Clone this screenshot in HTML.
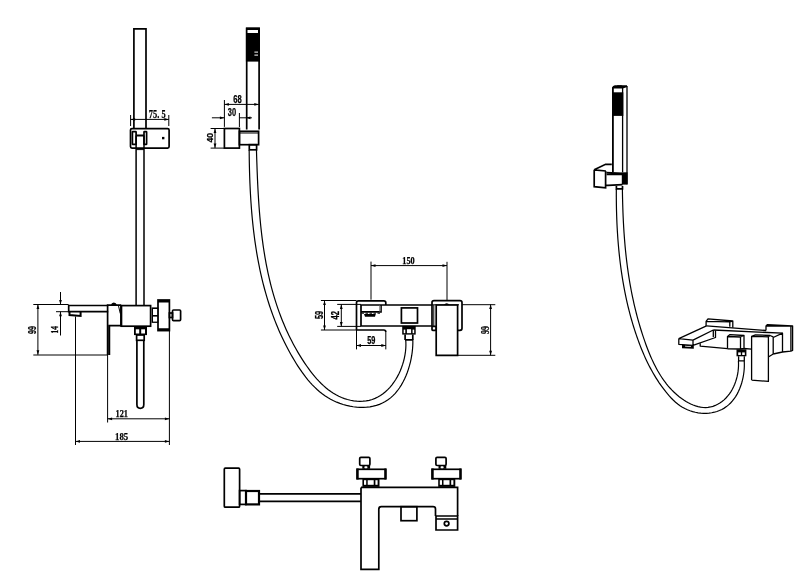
<!DOCTYPE html>
<html><head><meta charset="utf-8"><style>
html,body{margin:0;padding:0;background:#fff;width:800px;height:580px;overflow:hidden}
svg{display:block;will-change:transform}
.o{fill:none;stroke:#000;stroke-width:1.7}
.t{fill:none;stroke:#000;stroke-width:1}
.h{fill:none;stroke:#000;stroke-width:1.2}
.r{fill:none;stroke:#000;stroke-width:1.3;stroke-linejoin:round}
.dm{fill:none;stroke:#000;stroke-width:1}
.ar{fill:#000;stroke:none}
text{font-family:"Liberation Serif",serif;font-weight:bold;fill:#000;stroke:#000;stroke-width:0.25}
text.ss{font-family:"Liberation Sans",sans-serif}
</style></head><body>
<svg width="800" height="580" viewBox="0 0 800 580">
<path class="o" d="M133.9,128.6 V28.8 H146 V128.6"/>
<rect class="o" x="130.5" y="128.6" width="38.6" height="19.5" rx="1.5"/>
<rect class="o" x="132.4" y="131.6" width="3.7" height="12.8" rx="0.5"/>
<rect class="o" x="144" y="131.6" width="2.6" height="12.8" rx="0.5"/>
<path class="o" d="M136.1,135.5 H144" style="stroke-width:2"/>
<rect x="162" y="136.9" width="2.4" height="2.4"/>
<path class="o" d="M136.1,135.5 V305 M144,135.5 V305" style="stroke-width:1.5"/>
<path class="t" d="M136.1,149.6 H144"/>
<path class="dm" d="M130.6,115 V126 M168.8,115 V126"/>
<path class="dm" d="M130.6,119.4 H168.8"/><path class="ar" d="M130.6,119.4 L135.1,118.0 L135.1,120.8 Z"/><path class="ar" d="M168.8,119.4 L164.3,118.0 L164.3,120.8 Z"/>
<text x="148.8" y="117.8" font-size="12.21" textLength="16.8" lengthAdjust="spacingAndGlyphs">75. 5</text>
<path class="o" d="M108.2,305.5 H68.7 V311.6 H108.2"/>
<path class="o" d="M69.5,312 V315 L80.6,316 V312" style="stroke-width:2"/>
<path d="M110.8,305.5 Q111.5,302.6 113.8,302.6 Q116.2,302.6 117.1,305.5 Z"/>
<path class="o" d="M107.6,355.1 V305.2 H121.2 M109.4,355.1 V325.7 H121"/>
<path class="t" d="M118.3,305 L120.3,313.6"/>
<rect class="o" x="121.2" y="305.6" width="29.4" height="20.6"/>
<path class="o" d="M121.2,305.6 V326.2" style="stroke-width:2.2"/>
<path d="M151.6,307.4 H158.4 V322.9 H151.6 Z"/>
<rect fill="#fff" x="153" y="309" width="4.8" height="6"/><rect fill="#fff" x="153" y="316.6" width="4.8" height="5"/>
<rect class="o" x="158" y="300" width="11.4" height="30.6"/>
<path d="M158,300 H169.4 V302.5 H158 Z M158,328.2 H169.4 V330.6 H158 Z"/>
<rect class="o" x="169.4" y="313" width="3.1" height="4.5"/>
<rect class="o" x="172.5" y="310" width="8.1" height="10.6" rx="1"/>
<path d="M134,326.2 H147 V335.1 H134 Z"/>
<rect fill="#fff" x="135.8" y="329.3" width="3.4" height="4.2"/><rect fill="#fff" x="141.2" y="329.3" width="3.8" height="4.2"/>
<rect class="o" x="136.6" y="335" width="7.6" height="5.3"/>
<path class="o" d="M136.9,340 V404.5 Q136.9,408.3 140.3,408.3 Q143.8,408.3 143.8,404.5 V340"/>
<path class="dm" d="M33.3,304.5 H68.6 M56,311.7 H68.6 M33.3,355 H107.6"/>
<path class="dm" d="M37.9,304.5 V354.8"/><path class="ar" d="M37.9,304.5 L36.5,309.0 L39.3,309.0 Z"/><path class="ar" d="M37.9,354.8 L36.5,350.3 L39.3,350.3 Z"/>
<text class="ss" transform="translate(35.9,333.9) rotate(-90)" x="0" y="0" font-size="10.70" textLength="7.8" lengthAdjust="spacingAndGlyphs">99</text>
<path class="dm" d="M60.5,292 V304.5 M60.5,311.7 V335.5"/>
<path class="ar" d="M60.5,304.5 L59.1,300.0 L61.9,300.0 Z"/>
<path class="ar" d="M60.5,311.7 L59.1,316.2 L61.9,316.2 Z"/>
<text transform="translate(58.3,333.6) rotate(-90)" x="0" y="0" font-size="10.74" textLength="7.5" lengthAdjust="spacingAndGlyphs">14</text>
<path class="dm" d="M107.6,355 V422.5 M75.5,316.5 V445 M169.4,330.6 V445"/>
<path class="dm" d="M107.6,418.8 H169.4"/><path class="ar" d="M107.6,418.8 L112.1,417.4 L112.1,420.2 Z"/><path class="ar" d="M169.4,418.8 L164.9,417.4 L164.9,420.2 Z"/>
<text x="115.5" y="416.8" font-size="10.00" textLength="12.5" lengthAdjust="spacingAndGlyphs">121</text>
<path class="dm" d="M75.5,441.4 H169.4"/><path class="ar" d="M75.5,441.4 L80.0,440.0 L80.0,442.8 Z"/><path class="ar" d="M169.4,441.4 L164.9,440.0 L164.9,442.8 Z"/>
<text x="115.0" y="439.5" font-size="11.03" textLength="13.2" lengthAdjust="spacingAndGlyphs">185</text>
<path class="o" d="M246.7,129.4 V28.4 H259.1 V129.4"/>
<rect x="245.9" y="27.6" width="14" height="34"/>
<rect fill="#fff" x="247.5" y="30" width="10.5" height="3"/>
<rect fill="#fff" x="254.4" y="51.6" width="3.6" height="1"/><rect fill="#fff" x="254.4" y="54.6" width="3.6" height="1"/>
<rect class="o" x="224.4" y="128.5" width="15" height="19.6"/>
<rect class="o" x="239.4" y="131.3" width="19.2" height="13.4"/>
<path class="t" d="M239.4,133 H258.6"/>
<rect class="o" x="249.3" y="144.7" width="7.3" height="5.1"/>
<path class="h" d="M249.17,150.01 L249.20,153.33 L249.24,156.66 L249.28,160.00 L249.34,163.34 L249.41,166.68 L249.49,170.02 L249.59,173.37 L249.69,176.72 L249.81,180.07 L249.94,183.42 L250.09,186.78 L250.25,190.13 L250.43,193.49 L250.62,196.84 L250.83,200.20 L251.06,203.55 L251.30,206.90 L251.56,210.25 L251.84,213.61 L252.14,216.95 L252.46,220.30 L252.80,223.65 L253.16,226.99 L253.54,230.32 L253.95,233.66 L254.37,236.99 L254.82,240.32 L255.30,243.64 L255.79,246.96 L256.31,250.27 L256.86,253.57 L257.43,256.87 L258.03,260.17 L258.66,263.46 L259.31,266.74 L259.99,270.01 L260.70,273.28 L261.44,276.53 L262.21,279.78 L263.00,283.03 L263.83,286.26 L264.69,289.48 L265.58,292.70 L266.51,295.90 L267.46,299.09 L268.45,302.28 L269.47,305.45 L270.53,308.61 L271.63,311.76 L272.75,314.89 L273.92,318.02 L275.12,321.13 L276.36,324.23 L277.63,327.32 L278.95,330.39 L280.30,333.45 L281.69,336.49 L283.13,339.52 L284.60,342.54 L286.11,345.54 L287.67,348.52 L289.26,351.49 L290.90,354.44 L292.59,357.38 L294.31,360.29 L296.08,363.19 L297.90,366.07 L299.78,368.91 L301.70,371.71 L303.69,374.45 L305.74,377.15 L307.86,379.77 L310.05,382.33 L312.32,384.80 L314.66,387.19 L317.09,389.48 L319.60,391.67 L322.21,393.74 L324.91,395.70 L327.70,397.53 L330.60,399.22 L333.60,400.77 L336.70,402.18 L339.89,403.42 L343.15,404.51 L346.46,405.43 L349.82,406.18 L353.20,406.76 L356.59,407.15 L359.98,407.35 L363.36,407.36 L366.70,407.18 L369.99,406.79 L373.23,406.18 L376.39,405.37 L379.46,404.33 L382.43,403.07 L385.28,401.58 L387.99,399.85 L390.56,397.88 L392.99,395.69 L395.27,393.30 L397.41,390.73 L399.41,387.99 L401.26,385.10 L402.98,382.09 L404.55,378.96 L405.99,375.73 L407.28,372.44 L408.44,369.08 L409.46,365.69 L410.35,362.28 L411.10,358.87 L411.72,355.47 L412.20,352.10 L412.55,348.79 L412.77,345.55 L412.86,342.40 L412.81,339.35"/>
<path class="h" d="M256.45,149.97 L256.55,153.12 L256.64,156.28 L256.74,159.44 L256.85,162.60 L256.96,165.76 L257.07,168.93 L257.19,172.10 L257.32,175.27 L257.45,178.44 L257.59,181.61 L257.74,184.78 L257.90,187.96 L258.07,191.13 L258.25,194.30 L258.44,197.48 L258.64,200.65 L258.85,203.82 L259.08,206.99 L259.32,210.16 L259.58,213.33 L259.85,216.49 L260.13,219.65 L260.43,222.81 L260.75,225.97 L261.09,229.12 L261.44,232.28 L261.81,235.42 L262.21,238.57 L262.62,241.70 L263.05,244.84 L263.51,247.97 L263.98,251.09 L264.48,254.21 L265.00,257.33 L265.55,260.43 L266.12,263.53 L266.72,266.63 L267.34,269.72 L267.99,272.80 L268.67,275.87 L269.37,278.94 L270.10,282.00 L270.87,285.05 L271.66,288.09 L272.48,291.12 L273.33,294.15 L274.22,297.16 L275.14,300.17 L276.09,303.16 L277.07,306.15 L278.09,309.13 L279.15,312.09 L280.24,315.05 L281.36,317.99 L282.53,320.92 L283.73,323.84 L284.97,326.75 L286.24,329.64 L287.56,332.53 L288.92,335.40 L290.32,338.26 L291.76,341.10 L293.24,343.93 L294.77,346.75 L296.34,349.55 L297.95,352.34 L299.61,355.11 L301.31,357.87 L303.06,360.61 L304.86,363.33 L306.70,366.03 L308.60,368.70 L310.55,371.32 L312.55,373.89 L314.61,376.40 L316.73,378.83 L318.91,381.20 L321.15,383.47 L323.46,385.65 L325.83,387.72 L328.27,389.68 L330.79,391.52 L333.37,393.23 L336.03,394.80 L338.76,396.22 L341.58,397.48 L344.47,398.58 L347.44,399.51 L350.50,400.25 L353.61,400.80 L356.75,401.14 L359.91,401.28 L363.06,401.19 L366.17,400.86 L369.22,400.29 L372.19,399.47 L375.05,398.40 L377.82,397.07 L380.47,395.52 L383.01,393.76 L385.44,391.79 L387.74,389.64 L389.93,387.32 L391.99,384.84 L393.92,382.22 L395.72,379.48 L397.39,376.63 L398.92,373.68 L400.30,370.66 L401.54,367.56 L402.64,364.42 L403.58,361.24 L404.36,358.04 L404.99,354.83 L405.46,351.64 L405.77,348.46 L405.91,345.33 L405.87,342.25 L405.67,339.24"/>
<path class="dm" d="M224.4,100 V126.9 M239.4,113 V127"/>
<path class="dm" d="M224.4,104.4 H258.8"/><path class="ar" d="M224.4,104.4 L228.9,103.0 L228.9,105.8 Z"/><path class="ar" d="M258.8,104.4 L254.3,103.0 L254.3,105.8 Z"/>
<text class="ss" x="233.3" y="102.7" font-size="10.99" textLength="8.5" lengthAdjust="spacingAndGlyphs">68</text>
<path class="dm" d="M211.9,117.8 H224.4 M239.4,117.8 H251.9"/>
<path class="ar" d="M224.4,117.8 L219.9,116.4 L219.9,119.2 Z"/>
<path class="ar" d="M246.0,117.8 L250.5,116.4 L250.5,119.2 Z"/>
<text class="ss" x="227.8" y="115.6" font-size="10.56" textLength="8.3" lengthAdjust="spacingAndGlyphs">30</text>
<path class="dm" d="M210.6,128.5 H224.4 M210.6,148.1 H224.4"/>
<path class="dm" d="M215.0,128.5 V148.1"/><path class="ar" d="M215.0,128.5 L213.6,133.0 L216.4,133.0 Z"/><path class="ar" d="M215.0,148.1 L213.6,143.6 L216.4,143.6 Z"/>
<text class="ss" transform="translate(212.5,142.5) rotate(-90)" x="0" y="0" font-size="9.15" textLength="9.5" lengthAdjust="spacingAndGlyphs">40</text>
<path class="o" d="M356.5,330 V302.8 Q356.5,300.8 358.5,300.8 H383.8 Q385.8,300.8 385.8,302.8 V305"/>
<path class="o" d="M356.5,330 H383.8 Q385.8,330 385.8,332"/>
<path class="o" d="M361,326 V305 H432 M361,326 H432"/>
<path class="o" d="M361,311.9 H381 V305"/>
<rect fill="#999" x="379" y="305.8" width="1.6" height="5.5"/>
<path class="t" d="M361.5,313.2 H381" stroke-dasharray="2.5,1.5"/>
<path d="M364,314 H375.8 L375,316.7 H365 Z"/>
<rect class="o" x="401.4" y="307.9" width="16.1" height="15.1"/>
<path d="M402.2,325.9 H415.7 V334.6 H402.2 Z"/>
<rect fill="#fff" x="403.7" y="329.6" width="1.6" height="3.6"/><rect fill="#fff" x="406.9" y="329.2" width="4.2" height="4"/><rect fill="#fff" x="412.6" y="329.6" width="1.6" height="3.6"/>
<path class="o" d="M405.1,334.5 V340 M412.8,334.5 V340 M405.1,339.8 H412.8"/>
<path class="o" d="M432,326.4 V302.6 Q432,300.6 434,300.6 H460 Q462,300.6 462,302.6 V328.3 Q462,330.3 460,330.3 H457.6"/>
<path class="t" d="M432,304.8 H459 M433.8,305 V326.4"/>
<path class="o" d="M436.2,355.3 V305 H457.6 V355.3 Z"/>
<path d="M443.6,305 Q446.7,301.5 449.8,305 Z"/>
<rect class="o" x="432" y="326.4" width="4.2" height="3.9" rx="0.8"/>
<path class="dm" d="M371,261.6 V299.7 M447,261.8 V300.3"/>
<path class="dm" d="M371.0,265.6 H447.0"/><path class="ar" d="M371.0,265.6 L375.5,264.2 L375.5,267.0 Z"/><path class="ar" d="M447.0,265.6 L442.5,264.2 L442.5,267.0 Z"/>
<text x="402.3" y="263.7" font-size="10.44" textLength="12.4" lengthAdjust="spacingAndGlyphs">150</text>
<path class="dm" d="M320.9,300.5 H356.5 M320.9,330 H356.5 M337.2,304.4 H361 M337.2,326.4 H361"/>
<path class="dm" d="M324.5,300.5 V330.0"/><path class="ar" d="M324.5,300.5 L323.1,305.0 L325.9,305.0 Z"/><path class="ar" d="M324.5,330.0 L323.1,325.5 L325.9,325.5 Z"/>
<text class="ss" transform="translate(322.7,319.1) rotate(-90)" x="0" y="0" font-size="10.28" textLength="8.2" lengthAdjust="spacingAndGlyphs">59</text>
<path class="dm" d="M341.3,304.4 V326.4"/><path class="ar" d="M341.3,304.4 L339.9,308.9 L342.7,308.9 Z"/><path class="ar" d="M341.3,326.4 L339.9,321.9 L342.7,321.9 Z"/>
<text class="ss" transform="translate(339.2,319.4) rotate(-90)" x="0" y="0" font-size="10.42" textLength="8.5" lengthAdjust="spacingAndGlyphs">42</text>
<path class="dm" d="M356.5,330 V349.4 M385.8,332 V349.4"/>
<path class="dm" d="M356.5,345.5 H385.8"/><path class="ar" d="M356.5,345.5 L361.0,344.1 L361.0,346.9 Z"/><path class="ar" d="M385.8,345.5 L381.3,344.1 L381.3,346.9 Z"/>
<text class="ss" x="367.2" y="343.7" font-size="10.56" textLength="8.2" lengthAdjust="spacingAndGlyphs">59</text>
<path class="dm" d="M462,304.7 H495.3 M457.6,355.3 H495.3"/>
<path class="dm" d="M490.6,304.5 V355.3"/><path class="ar" d="M490.6,304.5 L489.2,309.0 L492.0,309.0 Z"/><path class="ar" d="M490.6,355.3 L489.2,350.8 L492.0,350.8 Z"/>
<text transform="translate(488.9,333.9) rotate(-90)" x="0" y="0" font-size="11.47" textLength="8.0" lengthAdjust="spacingAndGlyphs">99</text>
<path d="M612.2,92.3 H623.3 V115.9 H612.2 Z"/>
<path class="o" d="M612.9,171.9 V87.6 Q613.5,86.3 615,86.1 H627 M612.9,87.6 H622.6 L627,86.1" style="stroke-width:1.8"/>
<path class="r" d="M627,86.1 V184.2 M622.6,87.6 V172"/>
<ellipse class="t" cx="619.6" cy="86.6" rx="3.2" ry="0.9"/>
<path class="o" d="M594.2,169.8 L605.6,164.3 H611.8 M594.2,169.8 L605.9,171 M594.2,169.8 V186.7 L605.6,187.8 V171"/>
<path class="o" d="M606.4,172.6 L622.5,173.3 M606.6,174.3 L622.5,174.5 M605.6,185.3 H608 L622.5,184.7"/>
<path d="M621.8,172.3 H627.6 V184.6 H621.8 Z"/>
<path class="o" d="M616.4,186 V188.8 H622.5 V186"/>
<path class="h" d="M616.33,189.05 L616.32,191.81 L616.31,194.58 L616.32,197.35 L616.34,200.13 L616.37,202.90 L616.41,205.68 L616.46,208.47 L616.53,211.25 L616.61,214.04 L616.70,216.83 L616.80,219.62 L616.91,222.41 L617.04,225.20 L617.19,227.99 L617.34,230.79 L617.52,233.58 L617.70,236.37 L617.90,239.17 L618.12,241.96 L618.35,244.76 L618.59,247.55 L618.85,250.34 L619.13,253.13 L619.43,255.92 L619.74,258.70 L620.06,261.49 L620.41,264.27 L620.77,267.05 L621.15,269.82 L621.55,272.59 L621.97,275.36 L622.40,278.13 L622.85,280.89 L623.33,283.65 L623.82,286.40 L624.33,289.15 L624.86,291.89 L625.41,294.63 L625.98,297.37 L626.57,300.09 L627.19,302.82 L627.82,305.53 L628.48,308.24 L629.15,310.94 L629.85,313.64 L630.58,316.33 L631.32,319.01 L632.09,321.68 L632.88,324.35 L633.69,327.01 L634.53,329.65 L635.39,332.30 L636.27,334.93 L637.18,337.55 L638.12,340.16 L639.08,342.77 L640.06,345.36 L641.08,347.94 L642.12,350.51 L643.19,353.07 L644.30,355.62 L645.44,358.15 L646.62,360.67 L647.83,363.17 L649.08,365.65 L650.37,368.12 L651.70,370.57 L653.07,373.01 L654.49,375.42 L655.95,377.82 L657.46,380.19 L659.01,382.55 L660.62,384.88 L662.28,387.19 L663.99,389.48 L665.75,391.74 L667.57,393.97 L669.45,396.15 L671.41,398.26 L673.43,400.28 L675.54,402.20 L677.73,404.00 L680.01,405.66 L682.39,407.17 L684.86,408.52 L687.40,409.71 L690.00,410.73 L692.66,411.59 L695.35,412.28 L698.08,412.80 L700.82,413.15 L703.56,413.32 L706.30,413.31 L709.02,413.13 L711.70,412.76 L714.34,412.21 L716.92,411.47 L719.44,410.55 L721.88,409.43 L724.22,408.12 L726.46,406.62 L728.58,404.91 L730.58,403.02 L732.44,400.94 L734.18,398.71 L735.78,396.33 L737.24,393.84 L738.56,391.24 L739.74,388.56 L740.78,385.81 L741.68,383.02 L742.45,380.19 L743.08,377.35 L743.58,374.52 L743.96,371.72 L744.21,368.95 L744.33,366.24 L744.34,363.62 L744.23,361.08"/>
<path class="h" d="M622.40,188.90 L622.43,191.57 L622.47,194.23 L622.52,196.89 L622.58,199.55 L622.65,202.20 L622.72,204.85 L622.80,207.50 L622.89,210.14 L622.98,212.78 L623.09,215.42 L623.21,218.05 L623.33,220.68 L623.47,223.31 L623.61,225.94 L623.77,228.56 L623.93,231.18 L624.11,233.80 L624.30,236.41 L624.49,239.03 L624.71,241.64 L624.93,244.24 L625.16,246.85 L625.41,249.45 L625.67,252.05 L625.94,254.64 L626.23,257.24 L626.53,259.83 L626.84,262.42 L627.17,265.01 L627.51,267.59 L627.87,270.17 L628.24,272.75 L628.63,275.33 L629.03,277.91 L629.45,280.48 L629.88,283.05 L630.33,285.62 L630.80,288.18 L631.28,290.75 L631.78,293.31 L632.30,295.87 L632.84,298.43 L633.39,300.99 L633.96,303.54 L634.55,306.10 L635.16,308.65 L635.79,311.20 L636.44,313.74 L637.11,316.29 L637.79,318.83 L638.50,321.38 L639.23,323.92 L639.98,326.46 L640.74,328.99 L641.53,331.53 L642.35,334.06 L643.18,336.60 L644.03,339.13 L644.91,341.66 L645.81,344.18 L646.74,346.70 L647.70,349.22 L648.68,351.72 L649.70,354.20 L650.74,356.67 L651.83,359.12 L652.95,361.55 L654.11,363.96 L655.31,366.33 L656.55,368.68 L657.84,371.00 L659.17,373.27 L660.55,375.52 L661.99,377.72 L663.47,379.88 L665.01,381.99 L666.60,384.05 L668.26,386.06 L669.97,388.02 L671.74,389.92 L673.58,391.77 L675.48,393.55 L677.45,395.26 L679.49,396.91 L681.60,398.49 L683.78,400.00 L686.03,401.43 L688.35,402.75 L690.72,403.95 L693.13,405.01 L695.57,405.92 L698.05,406.64 L700.54,407.17 L703.04,407.48 L705.54,407.56 L708.03,407.38 L710.50,406.96 L712.94,406.31 L715.32,405.43 L717.64,404.33 L719.88,403.03 L722.02,401.53 L724.06,399.85 L725.98,397.99 L727.78,395.99 L729.44,393.84 L730.97,391.57 L732.35,389.21 L733.59,386.75 L734.69,384.23 L735.64,381.66 L736.46,379.05 L737.13,376.42 L737.68,373.78 L738.08,371.15 L738.36,368.55 L738.51,366.00 L738.53,363.50 L738.42,361.07"/>
<path class="r" d="M706.1,326.2 V321.4 L708,318.8 L732.8,321 V327.8 M706.1,321.4 L729.8,321.8 V326.8 M729.8,321.8 L732.8,321"/>
<path class="r" d="M678.8,338.6 L706.5,325.9 M678.8,338.6 L693,340.2 L713.3,330 M678.8,338.6 V344.3 L693,345.4 V340.2 M693,345.4 L715.5,337.5 V330.5 M713.3,330 V337"/>
<path d="M682,344.8 L693.8,345.6 V348.8 L682,348.2 Z"/>
<path fill="#fff" d="M685,345.8 L691,346.2 V347 L685,346.6 Z"/>
<path class="r" d="M706.5,325.9 L766,330.5 M713.3,330 L782.5,333.2 M700.2,343.2 V346.1 L727.5,348.6"/>
<path class="r" d="M727.5,348.8 V336.5 L730,334.6 L744,335.5 V348.5 L740.5,349 L727.5,348.8 M727.5,336.5 L740.5,337 L744,335.5 M740.5,337 V349"/>
<path d="M736.5,349.3 H746.4 V356.3 H736.5 Z"/>
<rect fill="#fff" x="738.2" y="352.4" width="2.6" height="2.6"/><rect fill="#fff" x="742.2" y="352.4" width="2.6" height="2.6"/>
<path class="r" d="M738.6,356.3 V360.8 H744.3 V356.3"/>
<path class="r" d="M744,348.5 L751.6,349.2"/>
<path class="r" d="M751.6,380.1 V336.4 L755.5,334.8 L770,335.5 L768.4,336.8 L751.6,336.4 M768.4,336.8 V381.4 L751.6,380.1 M768.4,357 L773.2,354 M773.2,336.8 V354 M770,335.5 L773.2,336.8"/>
<path class="r" d="M773.2,337.5 L782.5,333.2 V352 L773.2,354 M782.5,352 L790.9,351.2 V326.2 M766,330.5 V326 L767.5,324.6 L792.6,325.8 V350.5 L790.9,351.2 M766,326 L790.9,326.2 L792.6,325.8"/>
<rect class="o" x="224.3" y="468.2" width="15.3" height="39" rx="1"/>
<rect class="o" x="239.6" y="490.6" width="6.4" height="13.8"/>
<rect class="o" x="246" y="491" width="13" height="13.4" style="stroke-width:2.2"/>
<path class="o" d="M259,493.9 H361 M259,501.3 H361"/>
<path class="o" d="M361,487.4 H457.6 V516 M435.5,516 V509 Q435.5,506.7 433,506.7 H381.3 Q378.8,506.7 378.8,509.2 V569.4 H361 V487.4"/>
<rect class="o" x="401" y="506.7" width="15.9" height="14"/>
<path class="o" d="M436,516 H457.6 V530 H436 Z M436,519 H457.6"/>
<circle class="o" cx="446.6" cy="523.6" r="2.3"/>
<path d="M362.4,478.7 h17.1 v8.2 h-17.1 Z"/>
<rect fill="#fff" x="364.0" y="480.2" width="2.2" height="4.6"/><rect fill="#fff" x="367.7" y="480.2" width="6" height="4.6"/><rect fill="#fff" x="375.4" y="480.2" width="2.2" height="4.6"/>
<rect class="o" x="357.2" y="469.3" width="28.3" height="9.4"/>
<path d="M356.3,468.5 h2.4 v10.9 h-2.4 Z M384.3,468.5 h2.4 v10.9 h-2.4 Z"/>
<rect class="o" x="359.7" y="457.3" width="10.2" height="8.2" rx="1.2"/>
<path d="M362.3,465.3 h7.8 v3.5 h-7.8 Z"/>
<rect fill="#fff" x="364.3" y="466.3" width="3.2" height="2" rx="1"/>
<path d="M438.2,478.7 h17.1 v8.2 h-17.1 Z"/>
<rect fill="#fff" x="439.8" y="480.2" width="2.2" height="4.6"/><rect fill="#fff" x="443.5" y="480.2" width="6" height="4.6"/><rect fill="#fff" x="451.2" y="480.2" width="2.2" height="4.6"/>
<rect class="o" x="432.2" y="469.3" width="28.3" height="9.4"/>
<path d="M431.3,468.5 h2.4 v10.9 h-2.4 Z M459.3,468.5 h2.4 v10.9 h-2.4 Z"/>
<rect class="o" x="435.9" y="457.3" width="10.2" height="8.2" rx="1.2"/>
<path d="M438.5,465.3 h7.8 v3.5 h-7.8 Z"/>
<rect fill="#fff" x="440.5" y="466.3" width="3.2" height="2" rx="1"/>
</svg></body></html>
